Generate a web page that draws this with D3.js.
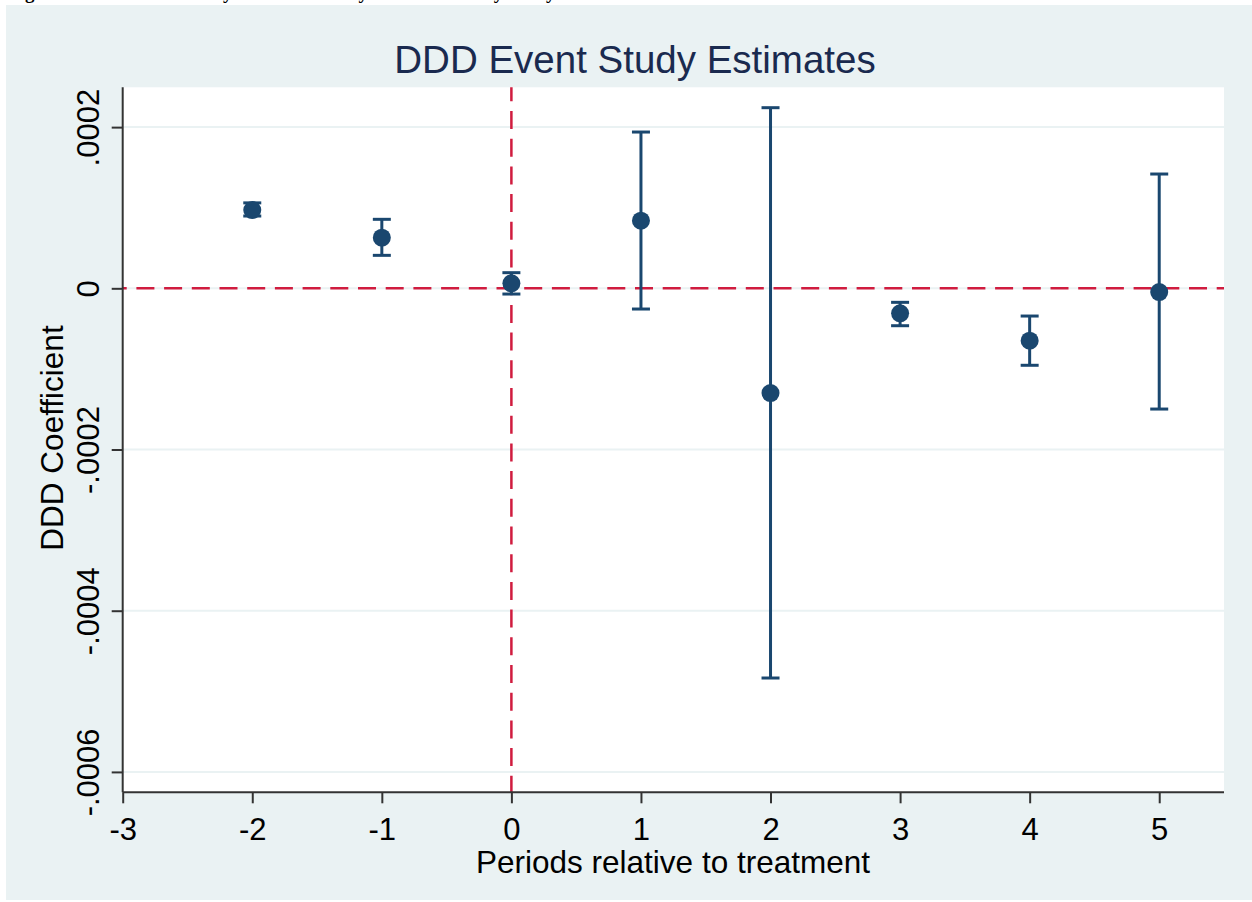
<!DOCTYPE html>
<html>
<head>
<meta charset="utf-8">
<script src="https://cdn.jsdelivr.net/npm/d3@7"></script>
<style>
  body { margin: 0; background: #fff; }
  svg { display: block; }
</style>
</head>
<body>
<svg id="chart" width="1252" height="902"></svg>
<script>
// event-study estimates
var periods = [-2, -1, 0, 1, 2, 3, 4, 5];
var coefs = [0.0000971, 0.0000628, 0.0000062, 0.0000839, -0.0001299, -0.0000310, -0.0000650, -0.0000046];
var ciUpper = [0.0001060, 0.0000856, 0.0000194, 0.0001939, 0.0002241, -0.0000174, -0.0000344, 0.0001418];
var ciLower = [0.0000897, 0.0000409, -0.0000071, -0.0000257, -0.0004835, -0.0000464, -0.0000955, -0.0001498];

var xTicks = [-3, -2, -1, 0, 1, 2, 3, 4, 5];
var yTicks = [0.0002, 0, -0.0002, -0.0004, -0.0006];
var yTickLabels = [".0002", "0", "-.0002", "-.0004", "-.0006"];

var navy = "#1a476f";
var red = "#d01c3f";
var font = "Liberation Sans, Arial, sans-serif";

var svg = d3.select("#chart");

// outer graph region
svg.append("rect")
    .attr("x", 6).attr("y", 5)
    .attr("width", 1246).attr("height", 895)
    .attr("fill", "#eaf2f3");

// caption of the page, cut off at the very top
svg.append("text")
    .attr("x", 8).attr("y", -1)
    .attr("font-family", "Liberation Serif, serif")
    .attr("font-weight", "bold")
    .attr("font-size", 19)
    .attr("fill", "#000")
    .text("Figure 3: DDD Event Study Estimates — Dynamic Effects by Study Period");

var plotLeft = 122.7, plotRight = 1224, plotTop = 87.3, plotBottom = 792.3;

var x = d3.scaleLinear().domain([-3, 5.5]).range([plotLeft, plotRight]);
var y = d3.scaleLinear().domain([-0.0006253, 0.0002494]).range([plotBottom, plotTop]);

// plot region
svg.append("rect")
    .attr("x", plotLeft).attr("y", plotTop)
    .attr("width", plotRight - plotLeft).attr("height", plotBottom - plotTop)
    .attr("fill", "#fff");

// horizontal grid
svg.append("g").selectAll("line")
    .data(yTicks)
    .enter().append("line")
    .attr("x1", plotLeft).attr("x2", plotRight)
    .attr("y1", function(d){ return y(d); })
    .attr("y2", function(d){ return y(d); })
    .attr("stroke", "#eaf2f3")
    .attr("stroke-width", 2);

// reference lines
svg.append("line")
    .attr("x1", plotLeft).attr("x2", plotRight)
    .attr("y1", y(0)).attr("y2", y(0))
    .attr("stroke", red).attr("stroke-width", 2.5)
    .attr("stroke-dasharray", "18,9.7")
    .attr("stroke-dashoffset", 14);
svg.append("line")
    .attr("x1", x(0)).attr("x2", x(0))
    .attr("y1", plotTop).attr("y2", plotBottom)
    .attr("stroke", red).attr("stroke-width", 2.5)
    .attr("stroke-dasharray", "18,9.7")
    .attr("stroke-dashoffset", 4);

// axes
var xAxis = d3.axisBottom(x).tickValues(xTicks).tickSize(11).tickPadding(15)
    .tickFormat(function(d){ return d < 0 ? "-" + Math.abs(d) : d; });
var gx = svg.append("g")
    .attr("transform", "translate(0," + plotBottom + ")")
    .call(xAxis);
gx.select(".domain").attr("stroke", "#333").attr("stroke-width", 2)
    .attr("d", "M" + plotLeft + ",0H" + plotRight);
gx.selectAll(".tick line").attr("stroke", "#333").attr("stroke-width", 2);
gx.selectAll(".tick text")
    .attr("font-family", font)
    .attr("font-size", 31)
    .attr("fill", "#000");

var yAxis = d3.axisLeft(y).tickValues(yTicks).tickSize(11).tickPadding(8)
    .tickFormat(function(d, i){ return yTickLabels[i]; });
var gy = svg.append("g")
    .attr("transform", "translate(" + plotLeft + ",0)")
    .call(yAxis);
gy.select(".domain").attr("stroke", "#333").attr("stroke-width", 2)
    .attr("d", "M0," + plotTop + "V" + plotBottom);
gy.selectAll(".tick line").attr("stroke", "#333").attr("stroke-width", 2);
gy.selectAll(".tick text")
    .attr("font-family", font)
    .attr("font-size", 31)
    .attr("fill", "#000")
    .attr("text-anchor", "middle")
    .attr("dy", null)
    .attr("x", null)
    .attr("transform", "translate(-24,0) rotate(-90)");

// error bars
var bars = svg.append("g").selectAll("g")
    .data(periods)
    .enter().append("g");
bars.append("line")
    .attr("x1", function(d){ return x(d); })
    .attr("x2", function(d){ return x(d); })
    .attr("y1", function(d, i){ return y(ciUpper[i]); })
    .attr("y2", function(d, i){ return y(ciLower[i]); })
    .attr("stroke", navy).attr("stroke-width", 3);
bars.append("line")
    .attr("x1", function(d){ return x(d) - 9; })
    .attr("x2", function(d){ return x(d) + 9; })
    .attr("y1", function(d, i){ return y(ciUpper[i]); })
    .attr("y2", function(d, i){ return y(ciUpper[i]); })
    .attr("stroke", navy).attr("stroke-width", 3);
bars.append("line")
    .attr("x1", function(d){ return x(d) - 9; })
    .attr("x2", function(d){ return x(d) + 9; })
    .attr("y1", function(d, i){ return y(ciLower[i]); })
    .attr("y2", function(d, i){ return y(ciLower[i]); })
    .attr("stroke", navy).attr("stroke-width", 3);

// point estimates
svg.append("g").selectAll("circle")
    .data(periods)
    .enter().append("circle")
    .attr("cx", function(d){ return x(d); })
    .attr("cy", function(d, i){ return y(coefs[i]); })
    .attr("r", 9)
    .attr("fill", navy);

// titles
svg.append("text")
    .attr("x", 635).attr("y", 73)
    .attr("text-anchor", "middle")
    .attr("font-family", font)
    .attr("font-size", 38.5)
    .attr("fill", "#1a2a4f")
    .text("DDD Event Study Estimates");

svg.append("text")
    .attr("x", 673).attr("y", 873)
    .attr("text-anchor", "middle")
    .attr("font-family", font)
    .attr("font-size", 31.5)
    .attr("fill", "#000")
    .text("Periods relative to treatment");

svg.append("text")
    .attr("transform", "translate(63,438) rotate(-90)")
    .attr("text-anchor", "middle")
    .attr("font-family", font)
    .attr("font-size", 31.5)
    .attr("fill", "#000")
    .text("DDD Coefficient");
</script>
</body>
</html>
